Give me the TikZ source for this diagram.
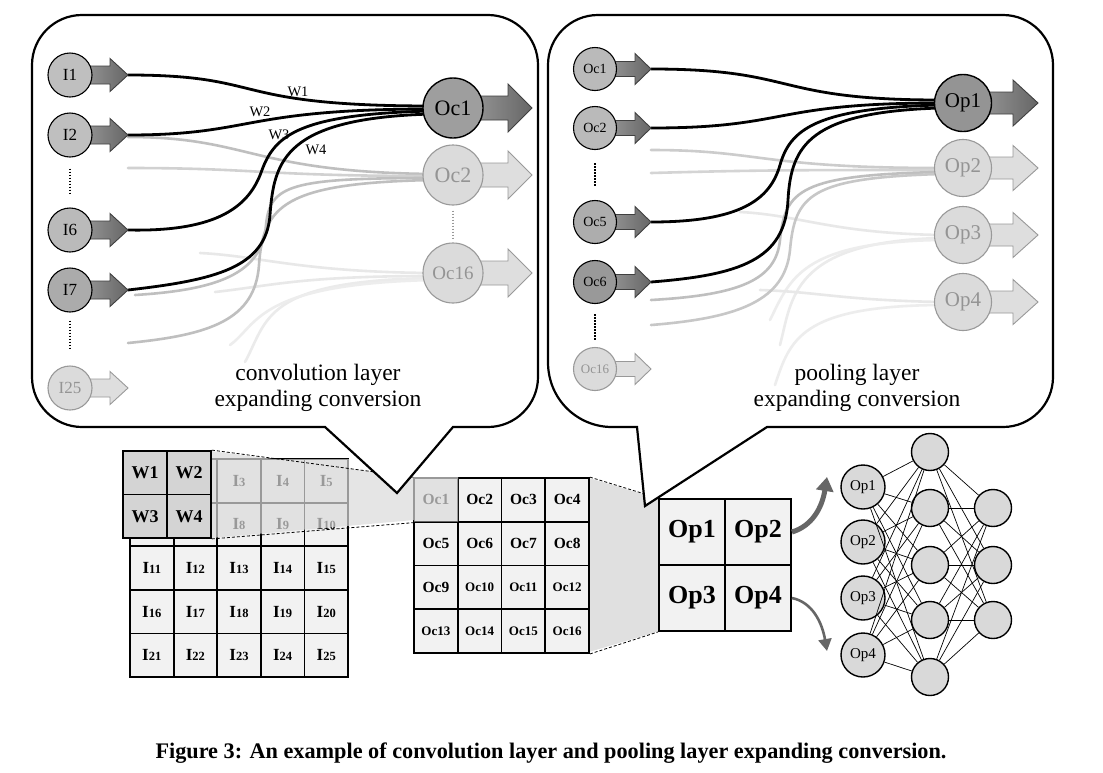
\documentclass[tikz,border=0pt]{standalone}
\usepackage{fontspec}
\usepackage{graphicx}
\setmainfont{Liberation Serif}
\usetikzlibrary{arrows.meta,calc}
\newcommand\fs[1]{\fontsize{#1}{#1}\selectfont}
% style, x0, y, head start, tip, shaft half, head half
\newcommand\harrow[7]{\draw[#1] (#2,#3-#6) -- (#4,#3-#6) -- (#4,#3-#7) -- (#5,#3) -- (#4,#3+#7) -- (#4,#3+#6) -- (#2,#3+#6) -- cycle;}
\begin{document}
\begin{tikzpicture}[x=1pt,y=-1pt,
  darr/.style={draw=black!75, line width=0.9pt, left color=black!35, right color=black!60},
  larr/.style={draw=black!40, line width=0.9pt, fill=black!13},
  dn/.style={circle, draw=black, line width=1.1pt, inner sep=0pt, text=black},
  ln/.style={circle, draw=black!40, line width=1.1pt, inner sep=0pt, fill=black!14, text=black!42},
  wire/.style={line width=2.8pt, line cap=round},
  gwire/.style={line width=2.6pt, line cap=round, draw=black!#1},
  dotln/.style={line width=2.2pt, dash pattern=on 1.5pt off 1.5pt},
  gcell/.style={rectangle, draw=black, line width=1.8pt, fill=black!5, minimum width=43.6pt, minimum height=43.6pt, inner sep=0pt, font=\bfseries\fs{17}},
  wcell/.style={rectangle, draw=black, line width=1.8pt, fill=black!17, minimum width=44pt, minimum height=43.5pt, inner sep=0pt, font=\bfseries\fs{18}},
  ocell/.style={rectangle, draw=black, line width=1.8pt, fill=black!5, minimum width=43.75pt, minimum height=43.75pt, inner sep=0pt, font=\bfseries},
  pcell/.style={rectangle, draw=black, line width=1.8pt, fill=black!5, minimum width=66pt, minimum height=66pt, inner sep=0pt, font=\bfseries\fs{26}},
  nn/.style={circle, draw=black, line width=1.4pt, fill=black!15, inner sep=0pt},
  nnedge/.style={line width=0.7pt, draw=black},
  balloon/.style={draw=black, line width=2.2pt, fill=white, line join=miter},
  trap/.style={line width=0.8pt, dash pattern=on 3pt off 2pt}
]
\useasboundingbox (0,0) rectangle (1103,772);
\fill[white] (0,0) rectangle (1103,772);

% ---------------- bottom: input grid ----------------
\foreach \r in {0,...,4}{\foreach \c in {0,...,4}{%
  \pgfmathtruncatemacro\n{\r*5+\c+1}
  \node[gcell] (in\n) at ({151.8+43.6*\c},{480.8+43.6*\r}) {\ifnum\c<2 \ifnum\r<2 \else I{\fs{12.5}\n}\fi\else I{\fs{12.5}\n}\fi};
}}
% ---------------- Oc grid ----------------
\fill[black!12] (589,478) -- (659,499) -- (659,631) -- (589,652) -- cycle;
\foreach \r in {0,...,3}{\foreach \c in {0,...,3}{%
  \pgfmathtruncatemacro\n{\r*4+\c+1}
  \node[ocell] (oc\n) at ({435.9+43.75*\c},{499.9+43.75*\r}) {\ifnum\n<10 \fs{15.5}Oc\n\else\fs{13}Oc\n\fi};
}}
% ---------------- pooling grid ----------------
\node[pcell] (pg1) at (692,532) {Op1};
\node[pcell] (pg2) at (758,532) {Op2};
\node[pcell] (pg3) at (692,598) {Op3};
\node[pcell] (pg4) at (758,598) {Op4};
\draw[trap] (oc4.north east) -- (pg1.north west);
\draw[trap] (oc16.south east) -- (pg3.south west);

% overlay cone from weights to Oc1
\fill[black!14, fill opacity=0.7] (211,451) -- (273.5,459) -- (349,459) -- (349,468.6) -- (414,477) -- (458,477) -- (458,521.5) -- (414,521.5) -- (414,520) -- (211,538) -- cycle;
% weights
\node[wcell] (w1) at (145,472.75) {W1};
\node[wcell] (w2) at (189,472.75) {W2};
\node[wcell] (w3) at (145,516.25) {W3};
\node[wcell] (w4) at (189,516.25) {W4};
\draw[trap] (w2.north east) -- (oc1.north west);
\draw[trap] (w4.south east) -- (oc1.south west);

% ---------------- balloons ----------------
\draw[balloon] (397,493) -- (453,427) -- (488,427) .. controls (515.4,427) and (538,404.4) .. (538,377) -- (538,65) .. controls (538,37.4) and (515.4,15) .. (488,15) -- (82,15) .. controls (54.4,15) and (32,37.4) .. (32,65) -- (32,377) .. controls (32,404.4) and (54.4,427) .. (82,427) -- (325,427) -- cycle;
\draw[balloon] (645,506) -- (767,427) -- (1003,427) .. controls (1030.6,427) and (1053,404.4) .. (1053,377) -- (1053,65) .. controls (1053,37.4) and (1030.6,15) .. (1003,15) -- (598,15) .. controls (570.4,15) and (548,37.4) .. (548,65) -- (548,362) .. controls (548,400) and (578,427) .. (612,427) -- (637,427) -- cycle;

% ---------------- left balloon content ----------------
\coordinate (I1t) at (128,75);
\coordinate (I2t) at (128,135);
\coordinate (I6t) at (128,230);
\coordinate (I7t) at (128,290);
\coordinate (Oc1a) at (432,106);
\coordinate (Oc1b) at (432,109);
\coordinate (Oc1c) at (432,111);
\coordinate (Oc1d) at (432,114);
% light wires to Oc16
\draw[gwire=9] (200,253) .. controls (260,256) and (300,272) .. (432,273);
\draw[gwire=9] (215,292) .. controls (270,286) and (300,276) .. (432,276);
\draw[gwire=8] (245,362) .. controls (268,320) and (262,281) .. (432,278);
\draw[gwire=7] (230,345) .. controls (258,325) and (256,284) .. (432,280);
% grey wires to Oc2
\draw[gwire=25] (128,137) .. controls (250,137) and (250,172) .. (432,174);
\draw[gwire=18] (128,168) .. controls (260,168) and (260,176) .. (432,176);
\draw[gwire=25] (135,295) .. controls (215,290) and (262,275) .. (266,225) .. controls (270,185) and (290,178) .. (432,178);
\draw[gwire=25] (128,343) .. controls (210,335) and (255,320) .. (259,265) .. controls (263,205) and (285,183) .. (432,180);
% black wires to Oc1
\draw[wire] (I1t) .. controls (270,75) and (225,106) .. (Oc1a);
\draw[wire] (I2t) .. controls (255,135) and (240,109) .. (Oc1b);
\draw[wire] (I6t) .. controls (220,232) and (250,205) .. (262,170) .. controls (275,135) and (300,114) .. (Oc1c);
\draw[wire] (I7t) .. controls (215,280) and (266,268) .. (270,215) .. controls (274,160) and (285,118) .. (Oc1d);
\node[font=\fs{14.5}] (lw1) at (298,92) {W1};
\node[font=\fs{14.5}] (lw2) at (260,112) {W2};
\node[font=\fs{14.5}] (lw3) at (279,135) {W3};
\node[font=\fs{14.5}] (lw4) at (316,150) {W4};
% arrows
\harrow{darr}{70}{75}{110}{128}{9}{16.5}
\harrow{darr}{70}{135}{110}{128}{9}{16.5}
\harrow{darr}{70}{230}{110}{128}{9}{16.5}
\harrow{darr}{70}{290}{110}{128}{9}{16.5}
\harrow{larr}{70}{388}{110}{128}{9}{16.5}
\harrow{darr}{453}{108}{508}{532}{12}{24}
\harrow{larr}{453}{175}{508}{532}{12}{24}
\harrow{larr}{453}{273}{508}{532}{12}{24}
% nodes
\node[dn, fill=black!25, minimum size=44pt, font=\fs{17}] (I1) at (70,75) {I1};
\node[dn, fill=black!25, minimum size=44pt, font=\fs{17}] (I2) at (70,135) {I2};
\node[dn, fill=black!27, minimum size=44pt, font=\fs{17}] (I6) at (70,230) {I6};
\node[dn, fill=black!33, minimum size=44pt, font=\fs{17}] (I7) at (70,290) {I7};
\node[ln, minimum size=44pt, font=\fs{17}] (I25) at (70,388) {I25};
\node[dn, fill=black!38, minimum size=60pt, line width=1.4pt, font=\fs{22}] (Oc1) at (453,108) {Oc1};
\node[ln, minimum size=60pt, font=\fs{22}] (Oc2) at (453,175) {Oc2};
\node[ln, minimum size=60pt, font=\fs{19}] (Oc16) at (453,273) {Oc16};
\draw[dotln, shorten <=11pt, shorten >=13pt] (I2) -- (I6);
\draw[dotln, shorten <=8pt, shorten >=16pt] (I7) -- (I25);
\draw[dotln, draw=black!40, line width=1.5pt, shorten <=5pt, shorten >=3pt] (Oc2) -- (Oc16);
\node[align=center, font=\fs{23.5}, text depth=0pt] (ltxt) at (318,385) {convolution layer\\[2.5pt]expanding conversion};

% ---------------- right balloon content ----------------
\coordinate (R1t) at (651,69);
\coordinate (R2t) at (651,128);
\coordinate (R5t) at (651,222);
\coordinate (R6t) at (651,282);
\coordinate (Op1a) at (940,100);
\coordinate (Op1b) at (940,103);
\coordinate (Op1c) at (940,105);
\coordinate (Op1d) at (940,108);
% light wires
\draw[gwire=9] (740,212) .. controls (800,215) and (830,233) .. (940,235);
\draw[gwire=8] (780,345) .. controls (792,300) and (790,242) .. (940,238);
\draw[gwire=7] (770,320) .. controls (790,280) and (800,242) .. (940,240);
\draw[gwire=9] (760,290) .. controls (820,292) and (840,300) .. (940,302);
\draw[gwire=7] (775,385) .. controls (790,340) and (800,306) .. (940,305);
% grey wires to Op2
\draw[gwire=20] (651,150) .. controls (760,150) and (760,168) .. (940,168);
\draw[gwire=17] (651,173) .. controls (760,170) and (800,170) .. (940,170);
\draw[gwire=25] (651,300) .. controls (740,295) and (776,280) .. (780,240) .. controls (785,190) and (800,175) .. (940,172);
\draw[gwire=22] (651,325) .. controls (740,318) and (785,300) .. (790,250) .. controls (795,195) and (810,178) .. (940,174);
% black wires to Op1
\draw[wire] (R1t) .. controls (800,69) and (770,100) .. (Op1a);
\draw[wire] (R2t) .. controls (790,128) and (770,103) .. (Op1b);
\draw[wire] (R5t) .. controls (740,222) and (770,200) .. (780,165) .. controls (790,130) and (815,108) .. (Op1c);
\draw[wire] (R6t) .. controls (740,275) and (785,260) .. (788,200) .. controls (791,145) and (810,112) .. (Op1d);
% arrows
\harrow{darr}{595}{69}{635}{651}{7.5}{15.5}
\harrow{darr}{595}{128}{635}{651}{7.5}{15.5}
\harrow{darr}{595}{222}{635}{651}{7.5}{15.5}
\harrow{darr}{595}{282}{635}{651}{7.5}{15.5}
\harrow{larr}{595}{369}{635}{651}{7.5}{15.5}
\harrow{darr}{963}{103}{1013}{1038}{11}{23}
\harrow{larr}{963}{168}{1013}{1038}{11}{22.5}
\harrow{larr}{963}{235}{1013}{1038}{11}{22.5}
\harrow{larr}{963}{302}{1013}{1038}{11}{22.5}
% nodes
\node[dn, fill=black!27, minimum size=43pt, font=\fs{14}] (rOc1) at (595,69) {Oc1};
\node[dn, fill=black!27, minimum size=43pt, font=\fs{14}] (rOc2) at (595,128) {Oc2};
\node[dn, fill=black!32, minimum size=43pt, font=\fs{14}] (rOc5) at (595,222) {Oc5};
\node[dn, fill=black!40, minimum size=43pt, font=\fs{14}] (rOc6) at (595,282) {Oc6};
\node[ln, minimum size=43pt, font=\fs{13}] (rOc16) at (595,369) {Oc16};
\node[dn, fill=black!42, minimum size=57pt, line width=1.4pt, font=\fs{21}] (Op1) at (963,103) {Op1};
\node[ln, minimum size=57pt, font=\fs{21}] (Op2) at (963,168) {Op2};
\node[ln, minimum size=57pt, font=\fs{21}] (Op3) at (963,235) {Op3};
\node[ln, minimum size=57pt, font=\fs{21}] (Op4) at (963,302) {Op4};
\draw[dotln, shorten <=13pt, shorten >=13pt] (rOc2) -- (rOc5);
\draw[dotln, shorten <=10pt, shorten >=6pt] (rOc6) -- (rOc16);
\node[align=center, font=\fs{23.5}, text depth=0pt] (rtxt) at (857,385) {pooling layer\\[2.5pt]expanding conversion};

% ---------------- curved arrows ----------------
\draw[line width=5pt, draw=black!60, -{Triangle[length=14pt,width=17pt]}] (pg2.east) .. controls (812,526) and (822,508) .. (827,477);
\draw[line width=2.6pt, draw=black!60, -{Triangle[length=12pt,width=13pt]}] (pg4.east) .. controls (812,602) and (822,622) .. (827,651);

% ---------------- network ----------------
\node[nn, minimum size=44pt, font=\fs{15}] (n1) at (863,487) {Op1};
\node[nn, minimum size=44pt, font=\fs{15}] (n2) at (863,542) {Op2};
\node[nn, minimum size=44pt, font=\fs{15}] (n3) at (863,598) {Op3};
\node[nn, minimum size=44pt, font=\fs{15}] (n4) at (863,655) {Op4};
\node[nn, minimum size=37pt] (h1) at (930,452) {};
\node[nn, minimum size=37pt] (h2) at (930,508) {};
\node[nn, minimum size=37pt] (h3) at (930,565) {};
\node[nn, minimum size=37pt] (h4) at (930,620) {};
\node[nn, minimum size=37pt] (h5) at (930,677) {};
\node[nn, minimum size=37pt] (o1) at (993,508) {};
\node[nn, minimum size=37pt] (o2) at (993,565) {};
\node[nn, minimum size=37pt] (o3) at (993,620) {};
\foreach \i in {1,...,4}{\foreach \j in {1,...,5}{\draw[nnedge] (n\i) -- (h\j);}}
\foreach \i in {1,...,5}{\foreach \j in {1,...,3}{\draw[nnedge] (h\i) -- (o\j);}}

% ---------------- caption ----------------
\node (cap) at (551,753) {\resizebox{791pt}{!}{\fs{18}\bfseries Figure 3: An example of convolution layer and pooling layer expanding conversion.}};
\end{tikzpicture}
\end{document}
